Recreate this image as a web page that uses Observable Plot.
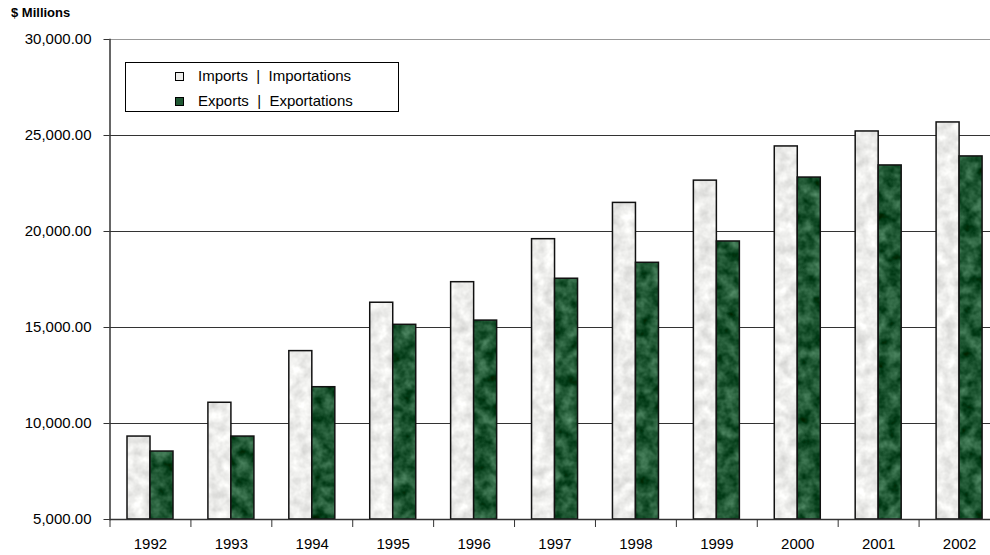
<!DOCTYPE html>
<html>
<head>
<meta charset="utf-8">
<script src="https://cdn.jsdelivr.net/npm/d3@7"></script>
<script src="https://cdn.jsdelivr.net/npm/@observablehq/plot@0.6"></script>
<style>
  html, body { margin: 0; padding: 0; background: #fff; }
  #wrap { position: relative; width: 990px; height: 555px; font-family: "Liberation Sans", Arial, sans-serif; }
  #title { position: absolute; left: 11px; top: 5px; font-weight: bold; font-size: 13px; color: #000; }
  #legend { position: absolute; left: 125px; top: 62px; width: 272px; height: 48px; border: 1px solid #000; background: #fff; font-size: 15px; color: #000; }
  .item { position: absolute; left: 49px; height: 16px; line-height: 16px; white-space: pre; }
  .sw { display: inline-block; width: 7px; height: 7px; border: 1px solid #000; vertical-align: middle; margin-right: 14px; position: relative; top: -1px; }
</style>
</head>
<body>
<div id="wrap">
  <div id="chart"></div>
  <div id="title">$ Millions</div>
  <div id="legend"></div>
</div>
<script>
const years = ["1992","1993","1994","1995","1996","1997","1998","1999","2000","2001","2002"];
const importsVals = [9320, 11080, 13770, 16290, 17360, 19600, 21490, 22650, 24430, 25210, 25680];
const exportsVals = [8540, 9320, 11890, 15140, 15360, 17540, 18370, 19480, 22810, 23440, 23910];
const seriesNames = ["Imports  |  Importations", "Exports  |  Exportations"];
const seriesColors = ["#ededeb", "#1f5733"];
const yTicks = [5000, 10000, 15000, 20000, 25000, 30000];

const rows = years.flatMap((yr, i) => [
  {year: yr, series: "imports", value: importsVals[i]},
  {year: yr, series: "exports", value: exportsVals[i]}
]);
const base = yTicks[0];
const band = (999.5 - 109.5) / years.length;

const chart = Plot.plot({
  width: 990,
  height: 555,
  marginTop: 39,
  marginBottom: 36,
  marginLeft: 109.5,
  marginRight: 0,
  style: {fontFamily: "'Liberation Sans', Arial, sans-serif", fontSize: "15px", color: "#000", background: "#fff"},
  x: {domain: years, range: [109.5, 999.5], padding: 0, round: false},
  y: {domain: [yTicks[0], yTicks[yTicks.length - 1]], range: [519, 39]},
  marks: [
    Plot.ruleY(yTicks.slice(1, -1), {stroke: "#333", strokeWidth: 1}),
    Plot.ruleY([yTicks[yTicks.length - 1]], {stroke: "#999", strokeWidth: 1.2}),
    Plot.barY(rows.filter(d => d.series === "imports"), {
      x: "year", y1: base, y2: "value",
      fill: "url(#texImp)", stroke: "#111", strokeWidth: 1.5,
      insetLeft: 17.5, insetRight: band - 40.5
    }),
    Plot.barY(rows.filter(d => d.series === "exports"), {
      x: "year", y1: base, y2: "value",
      fill: "url(#texExp)", stroke: "#111", strokeWidth: 1.5,
      insetLeft: 40.5, insetRight: band - 63.5
    }),
    Plot.ruleY([base], {stroke: "#333", strokeWidth: 1.5}),
    Plot.frame({anchor: "left", stroke: "#333", strokeWidth: 1.5}),
    Plot.axisY({ticks: yTicks, tickSize: 6, tickPadding: 12.5, tickFormat: d3.format(",.2f"), fontSize: 15, label: null, stroke: "#333"}),
    Plot.axisX({tickSize: 8, tickFormat: () => "", dx: -band / 2, label: null, stroke: "#333"}),
    Plot.axisX({tickSize: 0, tickPadding: 19, fontSize: 15, label: null})
  ]
});

// mottled textures for the bars (Excel-style fill)
function texture(svg, id, rgb, k, freq, seed) {
  const defs = svg.select("defs").empty() ? svg.insert("defs", ":first-child") : svg.select("defs");
  const fid = id + "F";
  const f = defs.append("filter").attr("id", fid).attr("x", 0).attr("y", 0).attr("width", "100%").attr("height", "100%")
    .attr("color-interpolation-filters", "sRGB");
  f.append("feTurbulence").attr("type", "fractalNoise").attr("baseFrequency", freq).attr("numOctaves", 3).attr("seed", seed);
  f.append("feColorMatrix").attr("type", "matrix").attr("values",
    `${k} 0 0 0 ${rgb[0] - k / 2}  ${k} 0 0 0 ${rgb[1] - k / 2}  ${k} 0 0 0 ${rgb[2] - k / 2}  0 0 0 0 1`);
  const p = defs.append("pattern").attr("id", id).attr("patternUnits", "userSpaceOnUse").attr("width", 1000).attr("height", 560);
  p.append("rect").attr("width", 1000).attr("height", 560).attr("fill", d3.rgb(rgb[0] * 255, rgb[1] * 255, rgb[2] * 255).formatHex());
  p.append("rect").attr("width", 1000).attr("height", 560).attr("filter", `url(#${fid})`);
}
const svgSel = d3.select(chart);
const ci = d3.rgb(seriesColors[0]), ce = d3.rgb(seriesColors[1]);
texture(svgSel, "texImp", [ci.r / 255, ci.g / 255, ci.b / 255], 0.25, 0.09, 4);
texture(svgSel, "texExp", [ce.r / 255, ce.g / 255, ce.b / 255], 0.55, 0.08, 7);

document.getElementById("chart").appendChild(chart);

const legend = document.getElementById("legend");
seriesNames.forEach((name, i) => {
  const it = document.createElement("div");
  it.className = "item";
  it.style.top = (i === 0 ? 5 : 30) + "px";
  const sw = document.createElement("span");
  sw.className = "sw";
  sw.style.background = seriesColors[i];
  it.appendChild(sw);
  it.appendChild(document.createTextNode(name));
  legend.appendChild(it);
});
</script>
</body>
</html>
